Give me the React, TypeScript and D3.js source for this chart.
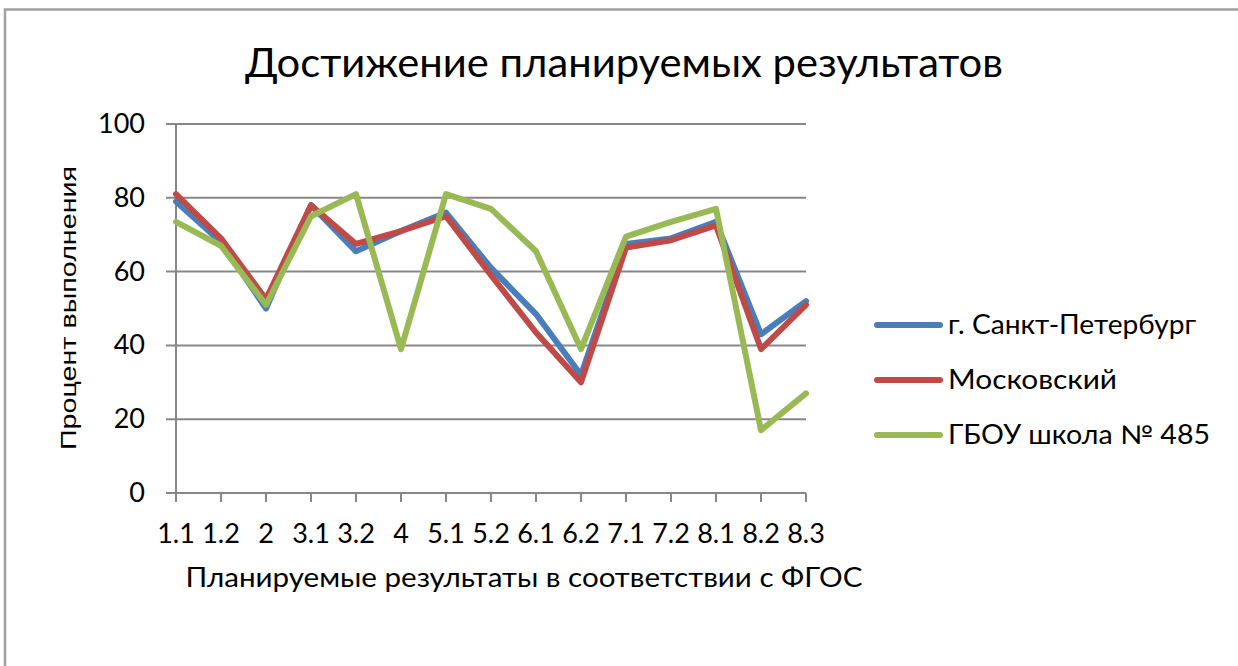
import React, { useEffect, useRef } from 'react';
import * as d3 from 'd3';

const categories = ['1.1', '1.2', '2', '3.1', '3.2', '4', '5.1', '5.2', '6.1', '6.2', '7.1', '7.2', '8.1', '8.2', '8.3'];
const spbValues = [79, 68, 50, 78, 65.5, 71, 76, 61, 48.5, 32, 67.5, 69, 73.5, 43, 52];
const moscowValues = [81, 69, 52.5, 78, 67.5, 71, 75, 59, 43.5, 30, 66.5, 68.5, 72.5, 39, 51];
const schoolValues = [73.5, 67, 51, 75, 81, 39, 81, 77, 65.5, 39, 69.5, 73.5, 77, 17, 27];
const seriesNames = ['г. Санкт-Петербург', 'Московский', 'ГБОУ школа № 485'];
const seriesColors = ['#4a7ebb', '#be4b48', '#98b954'];
const yTicks = [0, 20, 40, 60, 80, 100];

const App = () => {
  const ref = useRef<SVGSVGElement>(null);

  useEffect(() => {
    const width = 1238;
    const height = 666;
    const svg = d3.select(ref.current).attr('width', width).attr('height', height);
    svg.selectAll('*').remove();

    const font = 'Lato, Carlito, Calibri, sans-serif';
    const left = 176, right = 806, top = 124, bottom = 493;

    // frame
    svg.append('rect').attr('x', 5).attr('y', 9.5).attr('width', width).attr('height', height)
      .attr('fill', 'white').attr('stroke', '#a0a0a0').attr('stroke-width', 2.5);

    const x = d3.scalePoint<string>().domain(categories).range([left, right]);
    const y = d3.scaleLinear().domain([0, 100]).range([bottom, top]);

    // title
    svg.append('text').attr('x', 624).attr('y', 77).attr('text-anchor', 'middle')
      .attr('font-family', font).attr('font-size', 40).attr('fill', '#000')
      .attr('textLength', 758).attr('lengthAdjust', 'spacingAndGlyphs')
      .text('Достижение планируемых результатов');

    // grid
    svg.append('g').selectAll('line').data(yTicks).enter().append('line')
      .attr('x1', left - 10).attr('x2', right).attr('y1', d => y(d)).attr('y2', d => y(d))
      .attr('stroke', '#878787').attr('stroke-width', 2);

    svg.append('g').selectAll('text').data(yTicks).enter().append('text')
      .attr('x', 145).attr('y', d => y(d) + 9).attr('text-anchor', 'end')
      .attr('font-family', font).attr('font-size', 27).text(d => d);

    // axes
    svg.append('line').attr('x1', left).attr('x2', left).attr('y1', top).attr('y2', bottom)
      .attr('stroke', '#878787').attr('stroke-width', 2);
    svg.append('g').selectAll('line').data(categories).enter().append('line')
      .attr('x1', d => x(d)!).attr('x2', d => x(d)!).attr('y1', bottom).attr('y2', bottom + 9)
      .attr('stroke', '#878787').attr('stroke-width', 2);
    svg.append('g').selectAll('text').data(categories).enter().append('text')
      .attr('x', d => x(d)!).attr('y', 543).attr('text-anchor', 'middle')
      .attr('font-family', font).attr('font-size', 27).text(d => d);

    svg.append('text').attr('x', 524).attr('y', 587).attr('text-anchor', 'middle')
      .attr('font-family', font).attr('font-size', 26)
      .attr('textLength', 677).attr('lengthAdjust', 'spacingAndGlyphs')
      .text('Планируемые результаты в соответствии с ФГОС');

    svg.append('text').attr('transform', 'translate(76,308) rotate(-90)').attr('text-anchor', 'middle')
      .attr('font-family', 'Liberation Sans, Arial, sans-serif').attr('font-size', 22)
      .attr('textLength', 284).attr('lengthAdjust', 'spacingAndGlyphs')
      .text('Процент выполнения');

    // lines
    const allSeries = [spbValues, moscowValues, schoolValues];
    const line = d3.line<number>().x((_, i) => x(categories[i])!).y(d => y(d));
    allSeries.forEach((vals, i) => {
      svg.append('path').attr('d', line(vals)).attr('fill', 'none')
        .attr('stroke', seriesColors[i]).attr('stroke-width', 6)
        .attr('stroke-linejoin', 'round').attr('stroke-linecap', 'round');
    });

    // legend
    const legendY = [325, 380, 435];
    const legendWidths = [248, 169, 262];
    seriesNames.forEach((name, i) => {
      svg.append('line').attr('x1', 877).attr('x2', 940).attr('y1', legendY[i]).attr('y2', legendY[i])
        .attr('stroke', seriesColors[i]).attr('stroke-width', 6).attr('stroke-linecap', 'round');
      svg.append('text').attr('x', 948).attr('y', legendY[i] + 9)
        .attr('font-family', font).attr('font-size', 26)
        .attr('textLength', legendWidths[i]).attr('lengthAdjust', 'spacingAndGlyphs')
        .text(name);
    });
  }, []);

  return (
    <div style={{ position: 'absolute', left: 0, top: 0 }}>
      <svg ref={ref} style={{ display: 'block' }}></svg>
    </div>
  );
};

export default App;
